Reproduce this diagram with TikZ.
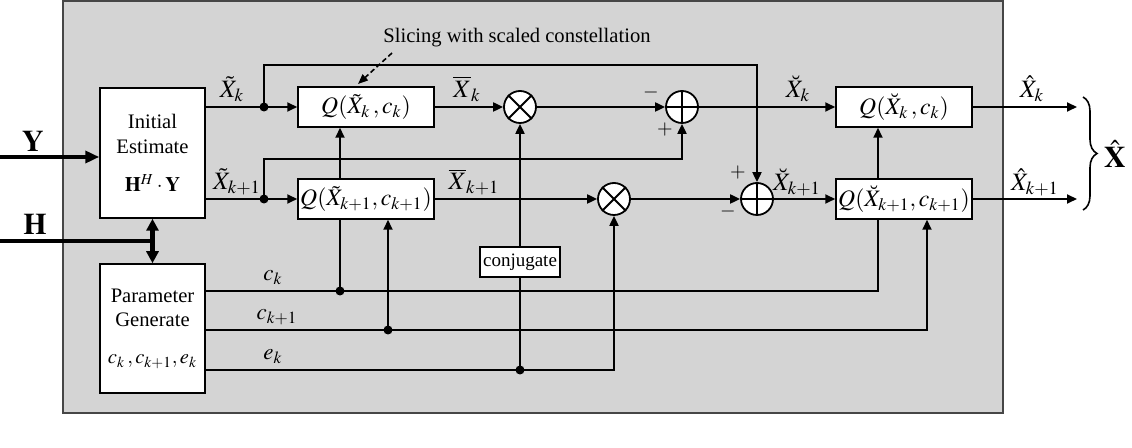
\documentclass[tikz,border=0pt]{standalone}
\usepackage{mathptmx}
\usepackage[no-math]{fontspec}
\setmainfont{Liberation Serif}
\usetikzlibrary{arrows.meta,decorations.pathreplacing}

\definecolor{panelgray}{RGB}{212,212,212}
\definecolor{paneledge}{RGB}{70,70,70}

\tikzset{
  sig/.style={line width=1pt},
  arr/.style={sig, -{Triangle[length=5pt,width=4.5pt]}},
  bus/.style={line width=2.2pt},
  blk/.style={draw, fill=white, line width=0.75pt, inner sep=0pt, align=center},
  qbox/.style={blk, minimum width=68pt, minimum height=20pt, font=\fontsize{11.8}{14}\selectfont},
  op/.style={circle, draw, fill=white, line width=0.9pt, minimum size=16pt, inner sep=0pt},
  lbl/.style={font=\fontsize{12.5}{14}\selectfont, inner sep=0pt},
  plbl/.style={font=\fontsize{11.5}{13}\selectfont, inner sep=0pt},
  sign/.style={font=\fontsize{10}{12}\selectfont, inner sep=0pt},
  bold/.style={font=\fontsize{15}{17}\selectfont},
  dot/.style={fill=black}
}

\begin{document}
\begin{tikzpicture}[x=0.5pt, y=-0.5pt, font=\fontsize{10.3}{12.4}\selectfont]
  \useasboundingbox (0,0) rectangle (1132,448);

  %%-- GRAY PANEL (x = 63..1003, y = 1..413) --%%
  \draw[fill=panelgray, draw=paneledge, line width=0.75pt] (63,1) rectangle (1003,413);

  %%-- LEFT BLOCKS --%%
  \node[blk, minimum width=52.5pt, minimum height=65pt] (init) at (152.5,153)
    {Initial\\Estimate\\[7pt]$\mathbf{H}^{H}\cdot\mathbf{Y}$};
  \node[blk, minimum width=52.5pt, minimum height=64.5pt] (param) at (152.5,328.5)
    {Parameter\\Generate\\[6pt]$c_k\,,c_{k+1},e_k$};

  %%-- SLICERS (first stage / second stage) --%%
  \node[qbox] (qk)   at (366,107) {$Q(\tilde{X}_k\,, c_k)$};
  \node[qbox] (qk1)  at (366,199) {$Q(\tilde{X}_{k+1},c_{k+1})$};
  \node[qbox] (qbk)  at (904,107) {$Q(\breve{X}_k\,, c_k)$};
  \node[qbox] (qbk1) at (904,199) {$Q(\breve{X}_{k+1},c_{k+1})$};

  %%-- MULTIPLIERS AND ADDERS --%%
  \node[op] (mulk)  at (520,107) {};
  \node[op] (mulk1) at (614,199) {};
  \node[op] (addk)  at (682,107) {};
  \node[op] (addk1) at (757,199) {};
  \foreach \m in {mulk, mulk1} {
    \draw[line width=0.9pt] (\m.north east) -- (\m.south west)
                            (\m.north west) -- (\m.south east);
  }
  \foreach \a in {addk, addk1} {
    \draw[line width=0.9pt] (\a.north) -- (\a.south) (\a.west) -- (\a.east);
  }
  \node[blk, minimum width=40pt, minimum height=15pt, font=\fontsize{9.5}{11}\selectfont]
    (conj) at (520,262) {conjugate};

  %%-- INPUTS Y AND H --%%
  \coordinate (yin) at (0,157);
  \coordinate (hin) at (0,241);
  \node[bold] (ylbl) at (33,141) {$\mathbf{Y}$};
  \node[bold] (hlbl) at (35,224) {$\mathbf{H}$};
  \draw[bus, -{Triangle[length=7pt,width=6pt]}] (yin) -- (yin -| init.west);
  \draw[bus] (hin) -- (hin -| init.south);
  \draw[bus, {Triangle[length=6pt,width=6pt]}-{Triangle[length=6pt,width=6pt]}]
    (init.south) -- (param.north);

  %%-- ESTIMATES X~ --%%
  \coordinate (sk)   at (264,107);
  \coordinate (sk1)  at (264,199);
  \coordinate (ytop) at (addk1 |- 0,65);
  \coordinate (ymid) at (addk |- 0,159);
  \draw[arr] (init.east |- qk.west) -- (qk.west);
  \draw[arr] (init.east |- qk1.west) -- (qk1.west);
  \draw[arr] (sk) |- (ytop) -- (addk1.north);
  \draw[arr] (sk1) |- (ymid) -- (addk.south);
  \fill[dot] (sk) circle (4.5);
  \fill[dot] (sk1) circle (4.5);

  %%-- MAIN SIGNAL PATH --%%
  \draw[arr] (qk.east) -- (mulk.west);
  \draw[arr] (mulk.east) -- (addk.west);
  \draw[arr] (addk.east) -- (qbk.west);
  \draw[arr] (qk1.east) -- (mulk1.west);
  \draw[arr] (mulk1.east) -- (addk1.west);
  \draw[arr] (addk1.east) -- (qbk1.west);

  %%-- OUTPUTS --%%
  \coordinate (outk)  at (1077,107);
  \coordinate (outk1) at (1077,199);
  \draw[arr] (qbk.east) -- (outk);
  \draw[arr] (qbk1.east) -- (outk1);
  \draw[line width=0.8pt, decorate, decoration={brace, amplitude=7pt}] (1083,97) -- (1083,210);
  \node[bold] (xhat) at (1115,154) {$\hat{\mathbf{X}}$};

  %%-- PARAMETER LINES c_k, c_{k+1}, e_k --%%
  \coordinate (ckend)  at (878,291);
  \coordinate (ckdot)  at (340,291);
  \coordinate (ck1end) at (927,330);
  \coordinate (ck1dot) at (388,330);
  \coordinate (ekend)  at (mulk1 |- 0,370);
  \coordinate (ekdot)  at (mulk |- 0,370);
  % c_k
  \draw[sig] (param.east |- ckend) -- (ckend) -- (qbk1.south -| ckend);
  \draw[arr] (qbk1.north -| ckend) -- (qbk.south -| ckend);
  \draw[sig] (ckdot) -- (qk1.south -| ckdot);
  \draw[arr] (qk1.north -| ckdot) -- (qk.south -| ckdot);
  % c_{k+1}
  \draw[arr] (param.east |- ck1end) -| (qbk1.south -| ck1end);
  \draw[arr] (ck1dot) -- (qk1.south -| ck1dot);
  % e_k
  \draw[arr] (param.east |- ekend) -- (ekend) -- (mulk1.south);
  \draw[sig] (ekdot) -- (conj.south);
  \draw[arr] (conj.north) -- (mulk.south);
  \fill[dot] (ckdot) circle (4.5);
  \fill[dot] (ck1dot) circle (4.5);
  \fill[dot] (ekdot) circle (4.5);

  %%-- SIGNAL LABELS --%%
  \node[lbl] (lxtk)  at (232,89)  {$\tilde{X}_k$};
  \node[lbl] (lxtk1) at (237,182) {$\tilde{X}_{k+1}$};
  \node[lbl] (lxbk)  at (467,89)  {$\overline{X}_k$};
  \node[lbl] (lxbk1) at (474,182) {$\overline{X}_{k+1}$};
  \node[lbl] (lxvk)  at (798,89)  {$\breve{X}_k$};
  \node[lbl] (lxvk1) at (797,182) {$\breve{X}_{k+1}$};
  \node[lbl] (lxhk)  at (1032,89) {$\hat{X}_k$};
  \node[lbl] (lxhk1) at (1035,182) {$\hat{X}_{k+1}$};
  \node[plbl] (lck)  at (273,278) {$c_k$};
  \node[plbl] (lck1) at (277,317) {$c_{k+1}$};
  \node[plbl] (lek)  at (273,357) {$e_k$};

  %%-- ADDER SIGNS --%%
  \node[sign] (sgn1) at (651,93)  {$-$};
  \node[sign] (sgn2) at (665,130) {$+$};
  \node[sign] (sgn3) at (738,173) {$+$};
  \node[sign] (sgn4) at (728,212) {$-$};

  %%-- SLICER NOTE --%%
  \node (slicing) at (517,38) {Slicing with scaled constellation};
  \coordinate (slicetail) at (392,53);
  \coordinate (slicehead) at (358,84);
  \draw[line width=0.8pt, dash pattern=on 2.5pt off 1.5pt, -{Triangle[length=5pt,width=4pt]}]
    (slicetail) -- (slicehead);

\end{tikzpicture}
\end{document}
